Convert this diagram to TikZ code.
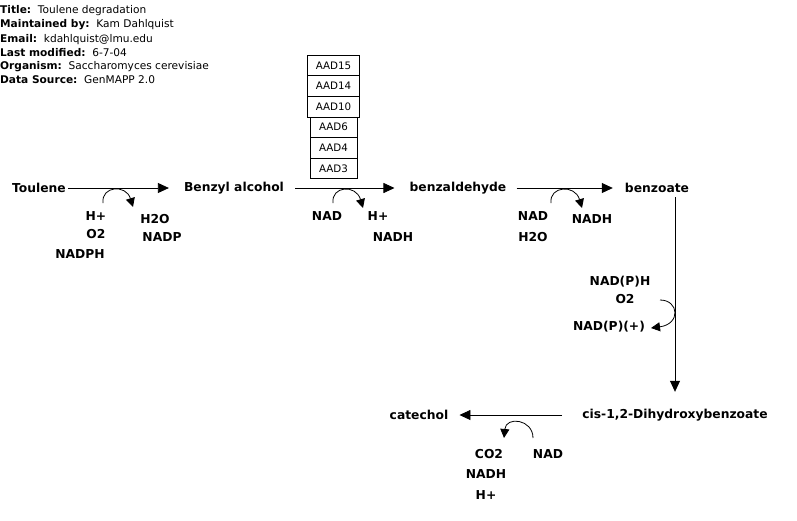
\documentclass[tikz,border=0pt]{standalone}
\usepackage{fontspec}
\setmainfont{DejaVu Sans}
\usetikzlibrary{arrows.meta}
\begin{document}
\begin{tikzpicture}[x=1pt,y=-1pt,
  met/.style={font=\bfseries\fontsize{12.3}{14}\selectfont, inner sep=0pt},
  side/.style={font=\bfseries\fontsize{12.3}{14}\selectfont, inner sep=0pt},
  hdr/.style={font=\fontsize{10.6}{12}\selectfont, inner sep=0pt, anchor=west},
  gene/.style={draw, line width=0.7pt, font=\fontsize{10.3}{12}\selectfont, inner sep=0pt, minimum height=20.6pt},
  main/.style={line width=0.8pt, -{Triangle[length=11pt,width=10pt]}},
  cof/.style={line width=0.8pt, -{Triangle[length=9pt,width=9pt]}}]
\useasboundingbox (0,0) rectangle (797,520);

% header
\node[hdr] (h1) at (0,11) {\textbf{Title:}~~Toulene degradation};
\node[hdr] (h2) at (0,25) {\textbf{Maintained by:}~~Kam Dahlquist};
\node[hdr] (h3) at (0,39.5) {\textbf{Email:}~~kdahlquist@lmu.edu};
\node[hdr] (h4) at (0,53) {\textbf{Last modified:}~~6-7-04};
\node[hdr] (h5) at (0,67) {\textbf{Organism:}~~Saccharomyces cerevisiae};
\node[hdr] (h6) at (0,80) {\textbf{Data Source:}~~GenMAPP 2.0};

% genes
\node[gene, minimum width=51.5pt] (g15) at (333.5,65.4) {AAD15};
\node[gene, minimum width=51.5pt] (g14) at (333.5,86) {AAD14};
\node[gene, minimum width=51.5pt] (g10) at (333.5,106.6) {AAD10};
\node[gene, minimum width=47pt] (g6) at (333.5,127.2) {AAD6};
\node[gene, minimum width=47pt] (g4) at (333.5,147.8) {AAD4};
\node[gene, minimum width=47pt] (g3) at (333.5,168.4) {AAD3};

% metabolites
\node[met] (toul) at (39,188) {Toulene};
\node[met] (benz) at (234,188) {Benzyl alcohol};
\node[met] (bald) at (458,188) {benzaldehyde};
\node[met] (bzo) at (657,188) {benzoate};
\node[met] (cis) at (675,415) {cis-1,2-Dihydroxybenzoate};
\node[met] (cat) at (419,415) {catechol};

% main conversions
\draw[main] (68,188) coordinate (m1s) -- ([xshift=-15pt]benz.west);
\draw[main] ([xshift=11pt]benz.east) -- ([xshift=-15pt]bald.west);
\draw[main] ([xshift=10pt]bald.east) -- ([xshift=-12pt]bzo.west);
\draw[main] (cis.north |- 0,197) coordinate (vtop) -- ([yshift=17pt]cis.north);
\draw[main] ([xshift=-20pt]cis.west) -- ([xshift=11pt]cat.east);

% cofactor labels, step 1
\node[side] (c1a) at (96,216) {H+};
\node[side] (c1b) at (96,234) {O2};
\node[side] (c1c) at (80,254) {NADPH};
\node[side] (c1d) at (155,219) {H2O};
\node[side] (c1e) at (162,237) {NADP};
% step 2
\node[side] (c2a) at (327,216) {NAD};
\node[side] (c2b) at (378,216) {H+};
\node[side] (c2c) at (393,237) {NADH};
% step 3
\node[side] (c3a) at (533,216) {NAD};
\node[side] (c3b) at (592,219) {NADH};
\node[side] (c3c) at (533,237) {H2O};
% step 4
\node[side] (c4a) at (620,282) {NAD(P)H};
\node[side] (c4b) at (625,299) {O2};
\node[side] (c4c) at (609,327) {NAD(P)(+)};
% step 5
\node[side] (c5a) at (489,454) {CO2};
\node[side] (c5b) at (548,454) {NAD};
\node[side] (c5c) at (486,474) {NADH};
\node[side] (c5d) at (486,495) {H+};

% curved cofactor arrows
\coordinate (a1s) at (103,203); \coordinate (a1e) at (133,207);
\draw[cof] (a1s) .. controls (101,186) and (126,184) .. (a1e);
\coordinate (a2s) at (333,203); \coordinate (a2e) at (363,208);
\draw[cof] (a2s) .. controls (331,186) and (356,184) .. (a2e);
\coordinate (a3s) at (551,203); \coordinate (a3e) at (582,208);
\draw[cof] (a3s) .. controls (549,186) and (575,184) .. (a3e);
\coordinate (a4s) at (660,300); \coordinate (a4e) at (651,328);
\draw[cof] (a4s) .. controls (679,300) and (681,324) .. (a4e);
\coordinate (a5s) at (533,438); \coordinate (a5e) at (504,438);
\draw[cof] (a5s) .. controls (533,419) and (506,416) .. (a5e);
\end{tikzpicture}
\end{document}
